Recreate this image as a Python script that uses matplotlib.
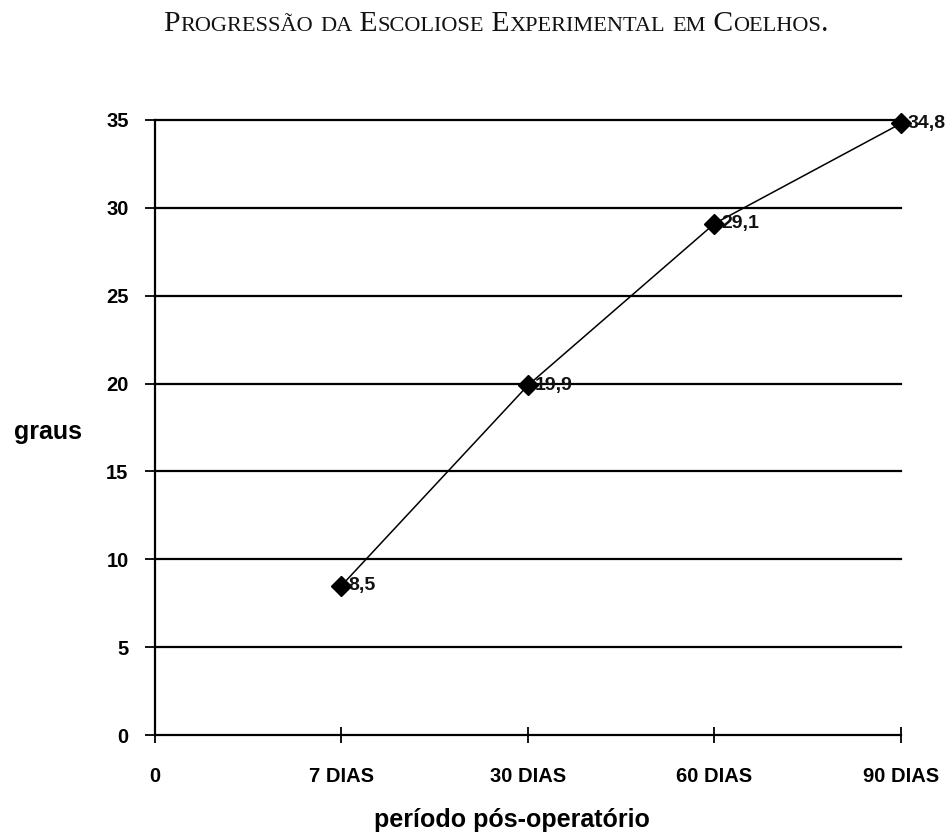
import matplotlib
matplotlib.use("Agg")
import matplotlib.pyplot as plt

# Data
categories = ["0", "7 DIAS", "30 DIAS", "60 DIAS", "90 DIAS"]
point_labels = ["7 DIAS", "30 DIAS", "60 DIAS", "90 DIAS"]
graus = [8.5, 19.9, 29.1, 34.8]
value_text = ["8,5", "19,9", "29,1", "34,8"]
y_ticks = [0, 5, 10, 15, 20, 25, 30, 35]
title = "Progressão da Escoliose Experimental em Coelhos."
xlabel = "período pós-operatório"
ylabel = "graus"

sans = "Liberation Sans"
serif = "Liberation Serif"

fig = plt.figure(figsize=(9.53, 8.36), dpi=100)
fig.patch.set_facecolor("white")
ax = fig.add_axes([0.1626, 0.1208, 0.9454 - 0.1626, 0.8565 - 0.1208])

xpos = list(range(len(categories)))
pts_x = [categories.index(c) for c in point_labels]

# horizontal gridlines
for yv in y_ticks[1:]:
    ax.axhline(yv, color="black", lw=1.6, zorder=1, clip_on=False)

ax.plot(pts_x, graus, color="black", lw=1.1, marker="D", markersize=10.5,
        markerfacecolor="black", markeredgecolor="black", zorder=3,
        clip_on=False)

for x, y, t in zip(pts_x, graus, value_text):
    ax.annotate(t, (x, y), xytext=(5, 0), textcoords="offset points",
                ha="left", va="center", fontsize=14, family=sans,
                fontweight="bold", color="#111111", zorder=4,
                annotation_clip=False)

ax.set_xlim(0, len(categories) - 1)
ax.set_ylim(0, 35)
ax.set_xticks(xpos)
ax.set_xticklabels(categories, fontsize=14.5, family=sans, fontweight="bold")
ax.set_yticks(y_ticks)
ax.set_yticklabels([str(v) for v in y_ticks], fontsize=14.5, family=sans,
                   fontweight="bold")

for s in ("top", "right"):
    ax.spines[s].set_visible(False)
for s in ("left", "bottom"):
    ax.spines[s].set_linewidth(1.6)
    ax.spines[s].set_color("black")

ax.tick_params(axis="x", direction="inout", length=12, width=1.3, pad=17,
               colors="black")
ax.tick_params(axis="y", direction="out", length=7, width=1.3, pad=12,
               colors="black")

fig.text(48 / 953, 1 - 432 / 836, ylabel, fontsize=18, family=sans,
         fontweight="bold", ha="center", va="center")
fig.text(512 / 953, 1 - 820 / 836, xlabel, fontsize=18, family=sans,
         fontweight="bold", ha="center", va="center")

# Small-caps title built from runs of capitals and reduced capitals
runs = []
for ch in title:
    small = ch.islower()
    if runs and runs[-1][1] == small:
        runs[-1][0] += ch
    else:
        runs.append([ch, small])

renderer = fig.canvas.get_renderer()
big, little = 21.3, 16.1
pieces = []
total = 0.0
for txt, small in runs:
    t = fig.text(0, 0, txt.upper(), fontsize=little if small else big,
                 family=serif, color="#111111")
    w = t.get_window_extent(renderer).width
    pieces.append((t, w))
    total += w

cx, cy = 496, 836 - 31
x0 = cx - total / 2
for t, w in pieces:
    t.set_transform(None)
    t.set_position((x0, cy))
    t.set_va("baseline")
    x0 += w

fig.savefig("out.png", dpi=100, facecolor="white")
